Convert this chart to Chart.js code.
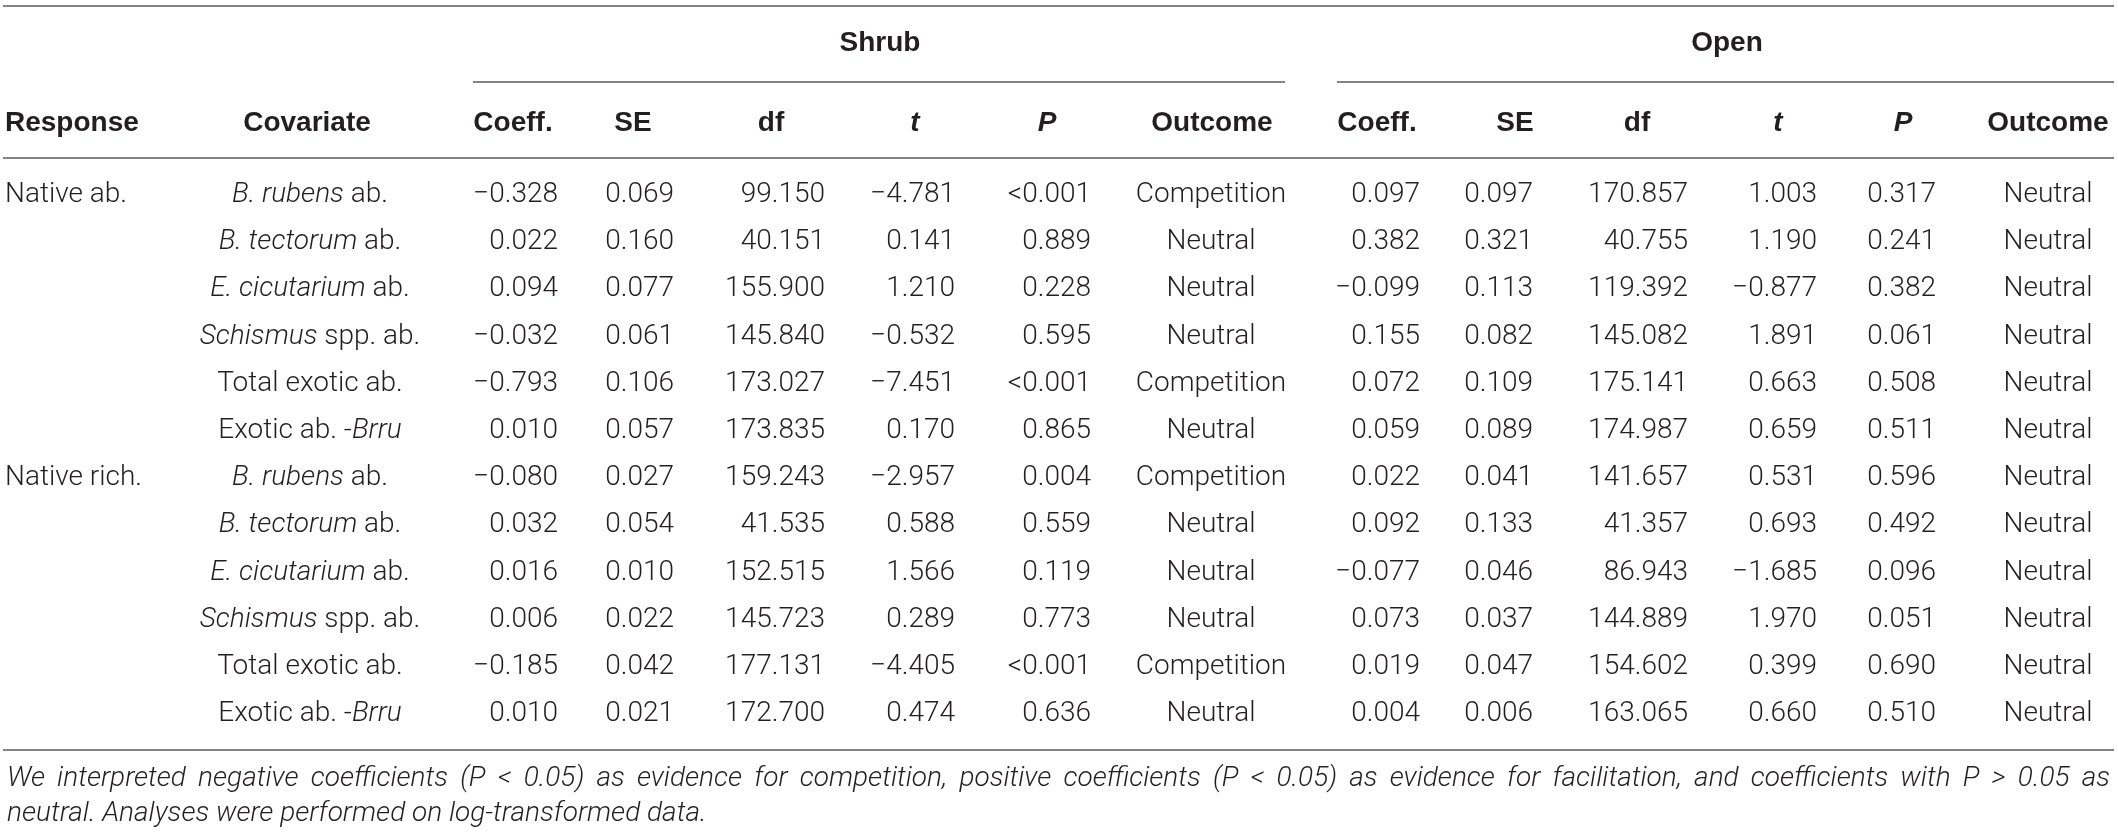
<!DOCTYPE html>
<html>
<head>
<meta charset="utf-8">
<title>Shrub vs open regression table</title>
<script src="https://cdn.jsdelivr.net/npm/chart.js@4.4.0/dist/chart.umd.min.js"></script>
<style>
    html, body { margin: 0; padding: 0; background: #ffffff; }
    #wrap { width: 2118px; height: 836px; }
</style>
</head>
<body>
<div id="wrap"><canvas id="tableChart" width="2118" height="836"></canvas></div>
<script>
// Table values, one row per covariate
const responses = ['Native ab.', '', '', '', '', '', 'Native rich.', '', '', '', '', ''];
const covariates = ['B. rubens ab.', 'B. tectorum ab.', 'E. cicutarium ab.', 'Schismus spp. ab.', 'Total exotic ab.', 'Exotic ab. -Brru',
    'B. rubens ab.', 'B. tectorum ab.', 'E. cicutarium ab.', 'Schismus spp. ab.', 'Total exotic ab.', 'Exotic ab. -Brru'];
const covItalic = ['B. rubens', 'B. tectorum', 'E. cicutarium', 'Schismus', '', 'Brru',
    'B. rubens', 'B. tectorum', 'E. cicutarium', 'Schismus', '', 'Brru'];

const shrubCoeff = [-0.328, 0.022, 0.094, -0.032, -0.793, 0.010, -0.080, 0.032, 0.016, 0.006, -0.185, 0.010];
const shrubSE = [0.069, 0.160, 0.077, 0.061, 0.106, 0.057, 0.027, 0.054, 0.010, 0.022, 0.042, 0.021];
const shrubDf = [99.150, 40.151, 155.900, 145.840, 173.027, 173.835, 159.243, 41.535, 152.515, 145.723, 177.131, 172.700];
const shrubT = [-4.781, 0.141, 1.210, -0.532, -7.451, 0.170, -2.957, 0.588, 1.566, 0.289, -4.405, 0.474];
const shrubP = ['<0.001', '0.889', '0.228', '0.595', '<0.001', '0.865', '0.004', '0.559', '0.119', '0.773', '<0.001', '0.636'];
const shrubOutcome = ['Competition', 'Neutral', 'Neutral', 'Neutral', 'Competition', 'Neutral',
    'Competition', 'Neutral', 'Neutral', 'Neutral', 'Competition', 'Neutral'];

const openCoeff = [0.097, 0.382, -0.099, 0.155, 0.072, 0.059, 0.022, 0.092, -0.077, 0.073, 0.019, 0.004];
const openSE = [0.097, 0.321, 0.113, 0.082, 0.109, 0.089, 0.041, 0.133, 0.046, 0.037, 0.047, 0.006];
const openDf = [170.857, 40.755, 119.392, 145.082, 175.141, 174.987, 141.657, 41.357, 86.943, 144.889, 154.602, 163.065];
const openT = [1.003, 1.190, -0.877, 1.891, 0.663, 0.659, 0.531, 0.693, -1.685, 1.970, 0.399, 0.660];
const openP = ['0.317', '0.241', '0.382', '0.061', '0.508', '0.511', '0.596', '0.492', '0.096', '0.051', '0.690', '0.510'];
const openOutcome = ['Neutral', 'Neutral', 'Neutral', 'Neutral', 'Neutral', 'Neutral',
    'Neutral', 'Neutral', 'Neutral', 'Neutral', 'Neutral', 'Neutral'];

const groupLabels = ['Shrub', 'Open'];
const statLabels = ['Coeff.', 'SE', 'df', 't', 'P', 'Outcome'];
const footnote = [
    'We interpreted negative coefficients (P < 0.05) as evidence for competition, positive coefficients (P < 0.05) as evidence for facilitation, and coefficients with P > 0.05 as',
    'neutral. Analyses were performed on log-transformed data.'
];

// Layout (pixels on x, row units on y)
const W = 2118, H = 836;
const ROW_H = 47.2, FIRST_ROW = 195;
const yv = px => (px - FIRST_ROW) / ROW_H;
const shrubRight = [558, 674, 825, 955, 1091, 1211];
const openRight = [1420, 1533, 1688, 1817, 1936, 2048];
const shrubHead = [513, 633, 771, 915, 1047, 1212];
const openHead = [1377, 1515, 1637, 1778, 1903, 2048];
const NOTE_RIGHT = 2110;

const INK = '#231f20';
const RULE = '#858585';
const FONTS = {
    body: { normal: '300 28px Roboto, "Liberation Sans", sans-serif', italic: 'italic 300 28px Roboto, "Liberation Sans", sans-serif' },
    head: { normal: 'bold 28px "Liberation Sans", Arial, sans-serif', italic: 'italic bold 28px "Liberation Sans", Arial, sans-serif' },
    note: { normal: 'italic 300 28px Roboto, "Liberation Sans", sans-serif', italic: 'italic 300 28px Roboto, "Liberation Sans", sans-serif' }
};

function fmt(v) {
    const s = Math.abs(v).toFixed(3);
    return v < 0 ? '\u2212' + s : s;
}

function plain(t) { return [{ text: t, italic: false }]; }

function covSegments(label, it) {
    if (!it) return plain(label);
    const i = label.indexOf(it);
    const segs = [];
    if (i > 0) segs.push({ text: label.slice(0, i), italic: false });
    segs.push({ text: it, italic: true });
    if (i + it.length < label.length) segs.push({ text: label.slice(i + it.length), italic: false });
    return segs;
}

// One scatter dataset per text column; the plugin writes the text at each point
function textSet(xs, ys, cells, align, style) {
    return {
        type: 'scatter',
        data: ys.map((y, i) => ({ x: Array.isArray(xs) ? xs[i] : xs, y: y })),
        cells: cells,
        align: align,
        style: style,
        pointRadius: 0,
        pointHoverRadius: 0
    };
}

function ruleSet(x0, x1, y) {
    return {
        type: 'line',
        data: [{ x: x0, y: y }, { x: x1, y: y }],
        borderColor: RULE,
        borderWidth: 2,
        pointRadius: 0,
        fill: false
    };
}

const rows = responses.map((r, i) => i);
const datasets = [];

// rules
datasets.push(ruleSet(3, 2114, yv(6)));
datasets.push(ruleSet(473, 1285, yv(82)));
datasets.push(ruleSet(1337, 2114, yv(82)));
datasets.push(ruleSet(3, 2114, yv(158)));
datasets.push(ruleSet(3, 2114, yv(750)));

// group headers and column headers
datasets.push(textSet([880, 1727], [yv(43), yv(43)], groupLabels.map(plain), 'center', 'head'));
datasets.push(textSet(5, [yv(123)], [plain('Response')], 'left', 'head'));
const headXs = [307].concat(shrubHead, openHead);
const headCells = [plain('Covariate')].concat(statLabels, statLabels).map(c => {
    if (Array.isArray(c)) return c;
    return [{ text: c, italic: c === 't' || c === 'P' }];
});
datasets.push(textSet(headXs, headXs.map(() => yv(123)), headCells, 'center', 'head'));

// body
datasets.push(textSet(5, rows, responses.map(plain), 'left', 'body'));
datasets.push(textSet(310, rows, covariates.map((c, i) => covSegments(c, covItalic[i])), 'center', 'body'));

const shrubCols = [shrubCoeff.map(fmt), shrubSE.map(fmt), shrubDf.map(fmt), shrubT.map(fmt), shrubP, shrubOutcome];
const openCols = [openCoeff.map(fmt), openSE.map(fmt), openDf.map(fmt), openT.map(fmt), openP, openOutcome];
shrubCols.forEach((col, c) => {
    datasets.push(textSet(shrubRight[c], rows, col.map(plain), c === 5 ? 'center' : 'right', 'body'));
});
openCols.forEach((col, c) => {
    datasets.push(textSet(openRight[c], rows, col.map(plain), c === 5 ? 'center' : 'right', 'body'));
});

// footnote, first line justified to the table width
const noteSet = textSet(7, [yv(779), yv(814)], footnote.map(plain), 'left', 'note');
noteSet.justify = [NOTE_RIGHT, null];
datasets.push(noteSet);

function drawSegments(ctx, segs, x, y, align, style) {
    const f = FONTS[style];
    let total = 0;
    segs.forEach(s => {
        ctx.font = s.italic ? f.italic : f.normal;
        s.w = ctx.measureText(s.text).width;
        total += s.w;
    });
    let left = x;
    if (align === 'center') left = x - total / 2;
    else if (align === 'right') left = x - total;
    segs.forEach(s => {
        ctx.font = s.italic ? f.italic : f.normal;
        ctx.fillText(s.text, left, y);
        left += s.w;
    });
}

function drawJustified(ctx, text, x, y, right, style) {
    ctx.font = FONTS[style].normal;
    const words = text.split(' ');
    const widths = words.map(w => ctx.measureText(w).width);
    const sum = widths.reduce((a, b) => a + b, 0);
    const gap = (right - x - sum) / (words.length - 1);
    let left = x;
    words.forEach((w, i) => {
        ctx.fillText(w, left, y);
        left += widths[i] + gap;
    });
}

const tableText = {
    id: 'tableText',
    afterDatasetsDraw(chart) {
        const ctx = chart.ctx;
        ctx.save();
        ctx.fillStyle = INK;
        ctx.textAlign = 'left';
        ctx.textBaseline = 'middle';
        chart.data.datasets.forEach((ds, di) => {
            if (!ds.cells) return;
            const meta = chart.getDatasetMeta(di);
            meta.data.forEach((pt, i) => {
                const segs = ds.cells[i];
                if (!segs || !segs.length || !segs[0].text) return;
                if (ds.justify && ds.justify[i]) {
                    drawJustified(ctx, segs[0].text, pt.x, pt.y, chart.scales.x.getPixelForValue(ds.justify[i]), ds.style);
                } else {
                    drawSegments(ctx, segs, pt.x, pt.y, ds.align, ds.style);
                }
            });
        });
        ctx.restore();
    }
};

new Chart(document.getElementById('tableChart'), {
    type: 'scatter',
    data: { datasets: datasets },
    options: {
        responsive: false,
        animation: false,
        devicePixelRatio: 1,
        layout: { padding: 0 },
        plugins: {
            legend: { display: false },
            tooltip: { enabled: false },
            title: { display: false }
        },
        events: [],
        scales: {
            x: { type: 'linear', min: 0, max: W, display: false },
            y: { type: 'linear', min: yv(0), max: yv(H), reverse: true, display: false }
        }
    },
    plugins: [tableText]
});
</script>
</body>
</html>
